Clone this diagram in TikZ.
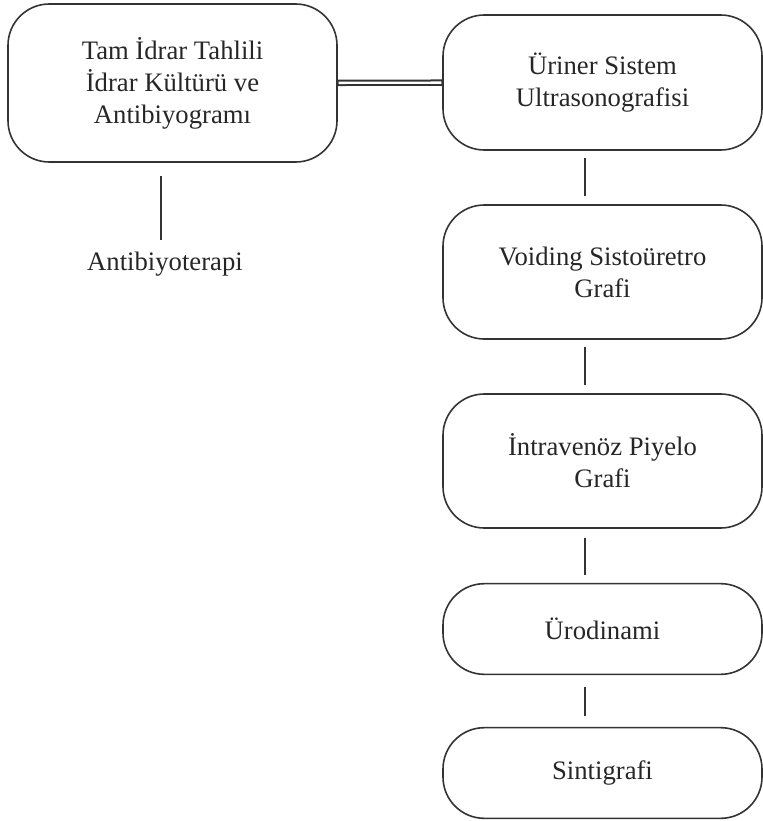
\documentclass[tikz,border=0pt]{standalone}
\usepackage{fontspec}
\setmainfont{Liberation Serif}
\tikzset{
	kutu/.style={draw=black!80, line width=1.2pt, rounded corners=31pt, align=center, text=black!85, font=\fontsize{20}{24}\selectfont, inner sep=0pt},
	genis/.style={kutu, minimum width=246.75pt, minimum height=118.5pt},
	sag/.style={kutu, minimum width=239.25pt, minimum height=100.5pt},
	ince/.style={kutu, minimum width=239.25pt, minimum height=68pt},
	bag/.style={draw=black!80, line width=1.2pt, shorten <=5.5pt, shorten >=6pt}
}
\begin{document}
\begin{tikzpicture}[x=0.75pt, y=-0.75pt]
		\useasboundingbox (0, 0) rectangle (763, 821);

		\node[genis] (tahlil) at (172.5, 83) {Tam İdrar Tahlili\\İdrar Kültürü ve\\Antibiyogramı};
		\node[sag, minimum height=101.25pt] (usg) at (602.5, 82.5) {Üriner Sistem\\Ultrasonografisi};
		\node[sag] (vsug) at (602.5, 272) {Voiding Sistoüretro\\Grafi};
		\node[sag] (ivp) at (602.5, 461) {İntravenöz Piyelo\\Grafi};
		\node[ince] (uro) at (602.5, 629) {Ürodinami};
		\node[ince] (sinti) at (602.5, 773) {Sintigrafi};
		\node[text=black!85, font=\fontsize{20}{24}\selectfont, anchor=base] (abt) at (165, 270) {Antibiyoterapi};

		\draw[black!80, line width=4.8pt] (tahlil) -- (usg);
		\draw[white, line width=1.8pt, shorten <=0.6pt, shorten >=0.6pt] (tahlil) -- (usg);

		\draw[bag, shorten <=10pt, shorten >=5pt] ([xshift=-8.5pt]tahlil.south) -- ([xshift=-8.5pt]tahlil.south |- abt.north);
		\draw[bag] ([xshift=-13pt]usg.south) -- ([xshift=-13pt]vsug.north);
		\draw[bag] ([xshift=-13pt]vsug.south) -- ([xshift=-13pt]ivp.north);
		\draw[bag, shorten <=7pt] ([xshift=-13pt]ivp.south) -- ([xshift=-13pt]uro.north);
		\draw[bag, shorten <=9pt, shorten >=8pt] ([xshift=-13pt]uro.south) -- ([xshift=-13pt]sinti.north);

	\end{tikzpicture}
\end{document}
